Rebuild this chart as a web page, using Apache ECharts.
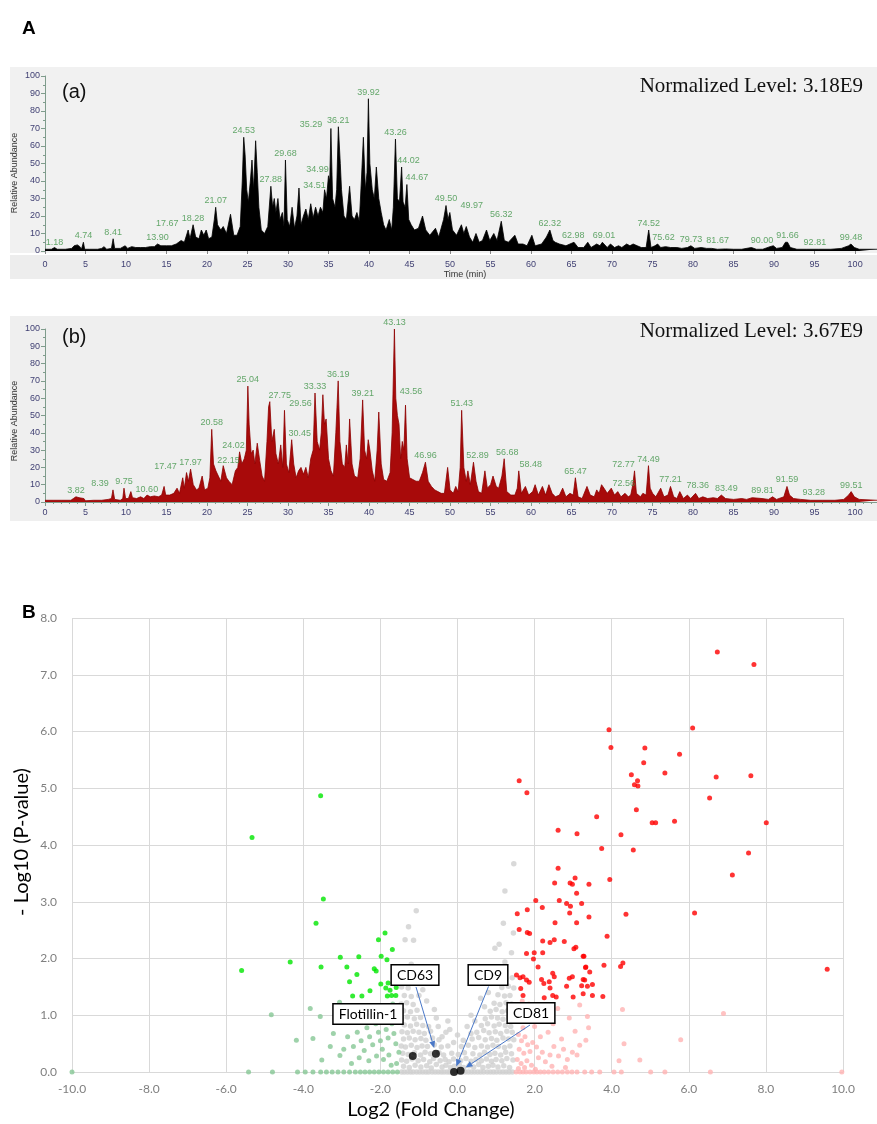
<!DOCTYPE html>
<html lang="en">
<head>
<meta charset="UTF-8">
<title>Chromatograms and volcano plot</title>
<script src="https://cdn.jsdelivr.net/npm/echarts@6/dist/echarts.min.js"></script>
<style>
    html, body {margin: 0; padding: 0; background: #fff;}
    #main {width: 877px; height: 1124px;}
</style>
</head>
<body>
<div id="main"></div>
<script type="text/javascript">
    // chromatogram (a): [time (min), relative abundance]
    var chromA = [
        [0,1],[0.8,1],[1.18,2],[1.5,1],[2.5,1],[3.3,1.5],[3.6,3],[4.0,3.5],[4.3,2.5],[4.5,1],[4.74,5],[4.9,1],[5.5,1],[6.5,1],
        [7.0,1.5],[7.3,2.5],[7.6,1],[8.2,1.5],[8.41,7],[8.6,1.5],[9.3,1.5],[9.9,3],[10.2,1.5],[10.7,2.5],[11.2,2],[11.8,2],
        [12.4,2],[13,2.5],[13.5,2.5],[13.9,4],[14.3,3],[15,3],[15.6,3],[16.2,4],[16.8,6],[17.2,5],[17.67,12],[17.9,7],
        [18.28,15],[18.6,8],[19.0,7],[19.3,12],[19.6,9],[19.9,12],[20.2,7],[20.6,8],[20.9,18],[21.07,25],[21.3,15],[21.7,12],
        [22.0,14],[22.4,10],[22.9,21],[23.3,9],[23.7,9],[24.1,14],[24.35,40],[24.53,65],[24.7,55],[24.9,35],[25.1,28],
        [25.35,40],[25.55,52],[25.75,35],[26.0,63],[26.2,45],[26.4,25],[26.7,12],[27.1,10],[27.5,14],[27.88,37],[28.1,25],
        [28.3,30],[28.5,22],[28.75,30],[29.0,18],[29.3,22],[29.5,14],[29.68,52],[29.9,18],[30.2,14],[30.5,25],[30.8,13],
        [31.1,20],[31.35,36],[31.6,15],[31.9,20],[32.2,24],[32.5,18],[32.8,27],[33.1,19],[33.4,25],[33.7,20],[34.0,25],
        [34.3,22],[34.51,35],[34.75,30],[34.99,43],[35.15,40],[35.29,70],[35.5,30],[35.8,25],[36.0,35],[36.21,71],[36.45,50],
        [36.6,35],[36.9,20],[37.2,18],[37.6,37],[37.9,20],[38.2,18],[38.5,22],[38.8,17],[39.05,40],[39.3,65],[39.55,35],
        [39.75,45],[39.92,87],[40.1,50],[40.4,35],[40.65,30],[40.9,48],[41.2,30],[41.5,22],[41.8,15],[42.1,12],[42.5,18],
        [42.8,12],[43.0,25],[43.26,64],[43.5,30],[43.75,28],[44.02,48],[44.2,28],[44.45,25],[44.67,38],[44.9,18],[45.2,15],
        [45.6,12],[46.1,13],[46.6,20],[47.0,12],[47.5,9],[48.2,13],[48.6,8],[49.2,18],[49.5,26],[49.75,18],[49.97,22],
        [50.3,12],[50.8,9],[51.4,15],[51.7,10],[52.0,14],[52.4,8],[52.8,5],[53.2,10],[53.6,5],[54.0,6],[54.5,12],[54.9,6],
        [55.4,10],[55.8,6],[56.32,17],[56.7,6],[57.2,5],[58.0,9],[58.4,4],[59.0,4],[59.5,3],[60.1,9],[60.5,3],[61.3,4],
        [61.9,8],[62.32,12],[62.7,6],[62.98,5],[63.5,4],[64.3,3],[65.3,5],[65.8,2],[66.5,2],[67.0,5],[67.4,2],[68.1,4],
        [68.5,3],[68.8,5],[69.01,4],[69.4,2],[69.8,4],[70.3,2],[70.8,3],[71.2,2],[71.8,4],[72.2,3],[72.6,4],[73.1,3],
        [73.6,2],[74.2,2],[74.52,12],[74.8,2],[75.3,3],[75.62,4],[76.0,2],[76.6,2.5],[77.2,2],[78.0,2],[78.6,1.5],[79.3,2],
        [79.73,3],[80.2,1.5],[81.0,2],[81.67,1.5],[82.3,1.5],[83.0,1],[84.0,1.2],[85.0,1],[86.0,1],[87.2,2],[87.8,1],
        [88.6,1],[89.5,2.5],[89.9,3],[90.3,1.5],[91.0,2],[91.4,5],[91.66,5],[92.0,2],[92.81,1],[94.0,1],[95.5,1],[97.0,1],
        [98.3,1.5],[99.2,3],[99.48,4],[99.9,2],[100.5,1],[102.7,1]
    ];
    // labelled peaks of (a): [time, height]
    var peaksA = [
        [1.18,1],[4.74,5],[8.41,7],[13.90,4],[17.67,12],[18.28,15],[21.07,25],[24.53,65],[27.88,37],[29.68,52],
        [34.51,35],[34.99,43],[35.29,70],[36.21,71],[39.92,87],[43.26,64],[44.02,48],[44.67,38],[49.50,26],[49.97,22],
        [56.32,17],[62.32,12],[62.98,5],[69.01,5],[74.52,12],[75.62,4],[79.73,3],[81.67,2],[90.00,2],[91.66,5],
        [92.81,1],[99.48,4]
    ];

    // chromatogram (b)
    var chromB = [
        [0,1],[1,1],[2,1],[3.2,1],[3.5,2],[3.82,3],[4.2,2.5],[4.8,2],[5.0,0.7],[6.0,1],[7.0,1],[7.8,1.5],[8.2,2],[8.39,7],
        [8.6,1.5],[9.3,1],[9.6,2],[9.75,8],[9.95,2],[10.3,2],[10.6,6],[10.8,2.5],[11.3,2],[11.8,3],[12.2,2],[12.6,4],
        [13.0,3],[13.5,3.5],[14.0,3],[14.4,4],[14.7,9],[14.9,4],[15.4,4],[15.9,5],[16.3,8],[16.6,5],[17.0,14],[17.2,8],
        [17.47,17],[17.7,12],[17.97,19],[18.3,10],[18.7,7],[19.0,8],[19.4,15],[19.7,7],[20.1,8],[20.35,14],[20.58,42],
        [20.8,22],[21.1,18],[21.4,15],[21.7,12],[22.0,21],[22.15,20],[22.4,14],[22.7,12],[23.1,10],[23.5,18],[23.8,20],
        [24.02,29],[24.3,22],[24.6,25],[24.85,30],[25.04,67],[25.2,45],[25.45,28],[25.7,30],[25.9,22],[26.2,34],[26.5,24],
        [26.8,15],[27.1,12],[27.4,35],[27.6,55],[27.75,58],[28.0,35],[28.3,42],[28.5,28],[28.8,22],[29.1,33],[29.35,20],
        [29.56,53],[29.8,22],[30.1,17],[30.45,36],[30.7,22],[31.0,14],[31.3,18],[31.6,20],[31.9,16],[32.2,20],[32.5,14],
        [32.8,25],[33.1,30],[33.33,63],[33.6,35],[33.9,30],[34.1,40],[34.3,62],[34.5,45],[34.7,48],[35.0,25],[35.3,18],
        [35.6,15],[35.9,40],[36.19,70],[36.4,35],[36.7,22],[37.0,20],[37.2,33],[37.4,22],[37.6,48],[37.9,22],[38.2,15],
        [38.6,14],[38.9,25],[39.21,59],[39.45,30],[39.7,25],[39.9,36],[40.1,30],[40.4,18],[40.7,12],[41.0,30],[41.2,52],
        [41.5,22],[41.8,13],[42.2,12],[42.6,17],[42.85,40],[43.13,100],[43.3,60],[43.5,50],[43.7,45],[43.9,25],[44.1,35],
        [44.3,30],[44.5,56],[44.7,25],[45.0,14],[45.4,13],[45.8,12],[46.2,12],[46.6,17],[46.96,23],[47.3,12],[47.7,9],
        [48.1,7],[48.5,6],[48.9,5],[49.3,5],[49.7,20],[50.0,7],[50.4,5],[50.7,9],[51.0,6],[51.25,20],[51.43,53],[51.7,20],
        [52.0,12],[52.2,18],[52.5,10],[52.89,23],[53.2,12],[53.5,6],[53.9,5],[54.3,18],[54.6,8],[55.0,10],[55.3,15],
        [55.7,9],[56.0,8],[56.4,15],[56.68,25],[57.0,6],[57.5,4],[58.0,4],[58.3,8],[58.48,18],[58.8,5],[59.3,9],[59.7,4],
        [60.2,6],[60.5,10],[60.9,4],[61.4,9],[61.8,4],[62.2,10],[62.6,5],[63.0,3],[63.5,4],[63.9,8],[64.3,3],[64.8,5],
        [65.2,4],[65.47,14],[65.8,3],[66.3,2],[66.9,9],[67.3,4],[67.8,3],[68.1,7],[68.4,5],[68.7,10],[69.0,8],[69.4,5],
        [69.9,8],[70.3,4],[70.7,6],[71.1,3],[71.6,5],[72.0,3],[72.3,4],[72.56,10],[72.77,18],[73.0,5],[73.5,3],[73.8,5],
        [74.2,4],[74.49,21],[74.7,8],[75.0,5],[75.4,3],[76.0,8],[76.4,3],[76.9,4],[77.21,9],[77.6,3],[78.0,2],[78.36,6],
        [78.8,2],[79.3,4],[79.7,2],[80.3,5],[80.7,2],[81.2,3],[81.8,2],[82.5,2.5],[83.0,2],[83.49,4],[84.0,2],[85.0,1.5],
        [86.0,2],[86.6,1.5],[87.3,2.5],[88.5,2],[89.3,1.5],[89.81,3],[90.3,1.5],[91.2,3],[91.59,9],[91.9,4],[92.4,2],
        [93.28,1.5],[94.5,1],[96.0,1],[97.5,1],[98.6,1.5],[99.2,4],[99.51,6],[99.9,3],[100.5,1.5],[102.7,1]
    ];
    var peaksB = [
        [3.82,3],[8.39,7],[9.75,8],[10.60,6],[17.47,17],[17.97,19],[20.58,42],[22.15,20],[24.02,29],[25.04,67],
        [27.75,58],[29.56,53],[30.45,36],[33.33,63],[36.19,70],[39.21,59],[43.13,100],[43.56,57],[46.96,23],[51.43,53],
        [52.89,23],[56.68,25],[58.48,18],[65.47,14],[72.56,10],[72.77,18],[74.49,21],[77.21,9],[78.36,6],[83.49,4],
        [89.81,3],[91.59,9],[93.28,1.5],[99.51,6]
    ];

    // volcano plot: [log2 fold change, -log10 p]
    var upSig = [
        [6.74,7.40],[7.69,7.18],[3.93,6.03],[6.10,6.06],[3.98,5.72],[4.86,5.71],[5.76,5.60],[4.83,5.45],[4.51,5.24],
        [5.38,5.27],[6.71,5.20],[7.61,5.22],[1.60,5.13],[4.67,5.13],[4.59,5.06],[4.68,5.04],[1.80,4.92],[6.54,4.83],
        [4.64,4.62],[3.61,4.50],[5.05,4.39],[5.14,4.39],[5.63,4.42],[8.01,4.39],[2.61,4.26],[3.10,4.20],[4.24,4.18],
        [3.74,3.94],[4.56,3.91],[7.55,3.86],[7.13,3.47],[2.61,3.59],[2.52,3.33],[2.92,3.33],[2.98,3.31],[3.05,3.42],
        [3.41,3.31],[3.95,3.39],[3.22,2.97],[3.41,2.73],[4.37,2.78],[6.15,2.80],[3.88,2.39],[3.26,2.04],[3.33,1.85],
        [3.80,1.88],[3.43,1.76],[4.23,1.86],[4.29,1.92],[3.30,1.62],[3.22,1.52],[3.50,1.54],[3.50,1.35],[3.77,1.33],
        [9.59,1.81],[3.09,3.15],[2.03,3.02],[2.64,3.02],[2.83,2.97],[2.93,2.92],[1.55,2.79],[1.81,2.86],[2.20,2.90],
        [2.91,2.80],[2.53,2.63],[3.09,2.63],[1.60,2.51],[1.81,2.46],[1.87,2.44],[2.21,2.31],[2.40,2.28],[2.51,2.33],
        [2.77,2.30],[3.07,2.20],[3.02,2.17],[1.79,2.09],[1.99,2.10],[2.21,2.10],[1.97,1.99],[3.28,2.04],[2.09,1.85],
        [3.32,1.84],[1.53,1.71],[1.70,1.68],[1.62,1.66],[1.79,1.62],[1.86,1.58],[2.18,1.63],[2.24,1.56],[2.47,1.74],
        [2.51,1.68],[2.38,1.59],[2.90,1.65],[2.98,1.68],[3.26,1.63],[3.37,1.51],[2.83,1.51],[2.40,1.48],[1.64,1.47],
        [1.70,1.35],[2.25,1.31],[2.56,1.32],[2.47,1.35],[3.00,1.32],[3.26,1.38]
    ];
    var upNs = [
        [3.17,1.18],[4.28,1.10],[3.37,0.98],[6.90,1.03],[3.33,0.56],[3.17,0.47],[4.32,0.50],[5.79,0.57],[4.19,0.20],
        [4.73,0.21],[3.30,0],[3.69,0],[4.06,0],[4.25,0],[5.01,0],[5.38,0],[6.56,0],[9.97,0],
        [1.55,1.05],[1.62,0.90],[1.70,0.78],[1.58,0.66],[1.66,0.55],[1.75,0.62],[1.82,0.48],[1.60,0.40],[1.72,0.33],
        [1.88,0.36],[1.95,0.52],[2.05,0.44],[1.55,0.22],[1.65,0.15],[1.80,0.20],[1.92,0.12],[2.10,0.25],[2.20,0.35],
        [2.28,0.18],[2.40,0.30],[2.50,0.45],[2.62,0.28],[2.75,0.40],[2.85,0.22],[2.98,0.35],[3.10,0.30],[2.15,0.62],
        [2.35,0.70],[2.00,0.80],[2.48,0.85],[2.70,0.58],[2.90,0.95],[2.20,1.05],[2.60,1.12],[1.85,1.20],[3.05,0.72],
        [1.68,1.25],[3.40,0.78],[1.58,0.06],[1.74,0.08],[2.02,0.05],[2.45,0.10],[2.80,0.08],
        [1.52,0],[1.62,0],[1.70,0],[1.78,0],[1.88,0],[1.98,0],[2.06,0],[2.15,0],[2.25,0],[2.36,0],[2.48,0],[2.60,0],
        [2.72,0],[2.85,0],[2.97,0],[3.10,0],[3.48,0]
    ];
    var downSig = [
        [-5.33,4.13],[-3.55,4.87],[-5.60,1.79],[-4.34,1.94],[-3.48,3.05],[-3.67,2.62],[-1.88,2.45],[-2.05,2.33],
        [-1.69,2.16],[-3.04,2.02],[-2.56,2.03],[-1.98,2.04],[-1.83,1.98],[-3.54,1.85],[-2.87,1.85],[-2.16,1.82],
        [-2.11,1.78],[-2.61,1.72],[-2.80,1.59],[-1.99,1.55],[-1.80,1.57],[-1.59,1.49],[-1.86,1.48],[-1.75,1.44],
        [-2.27,1.43],[-2.72,1.34],[-2.48,1.34],[-1.82,1.34],[-1.71,1.35],[-1.60,1.35]
    ];
    var downNs = [
        [-4.83,1.01],[-4.18,0.56],[-10.0,0],[-5.42,0],[-4.80,0],[-3.82,1.12],[-3.56,0.98],[-3.06,1.23],[-3.75,0.59],
        [-3.22,0.68],[-3.05,0.29],[-3.52,0.21],[-3.30,0.45],[-2.95,0.40],
        [-2.85,0.62],[-2.70,0.45],[-2.60,0.70],[-2.50,0.55],[-2.42,0.38],[-2.35,0.78],[-2.28,0.62],[-2.20,0.48],
        [-2.12,0.85],[-2.05,0.70],[-2.00,0.55],[-1.95,0.40],[-1.90,0.95],[-1.85,0.75],[-1.80,0.60],[-1.75,1.05],
        [-1.70,0.85],[-1.65,0.68],[-1.60,0.50],[-1.55,0.90],[-1.52,0.35],[-1.68,1.20],[-1.78,0.30],[-1.92,0.22],
        [-2.10,0.28],[-2.30,0.20],[-2.55,0.25],[-2.75,0.15],[-1.58,0.15],[-1.72,0.12],[-2.65,0.95],[-2.40,1.00],
        [-4.15,0],[-3.95,0],[-3.75,0],[-3.55,0],[-3.40,0],[-3.25,0],[-3.10,0],[-2.95,0],[-2.80,0],[-2.65,0],[-2.52,0],
        [-2.40,0],[-2.28,0],[-2.16,0],[-2.04,0],[-1.92,0],[-1.80,0],[-1.68,0],[-1.56,0]
    ];
    var noChange = [
        [-1.45,0],[-1.38,0],[-1.30,0],[-1.22,0],[-1.15,0],[-1.06,0],[-0.98,0],[-0.90,0],[-0.82,0],[-0.75,0],[-0.66,0],
        [-0.58,0],[-0.50,0],[-0.42,0],[-0.35,0],[-0.27,0],[-0.20,0],[-0.13,0],[-0.05,0],[0.03,0],[0.12,0],[0.20,0],
        [0.28,0],[0.36,0],[0.44,0],[0.52,0],[0.60,0],[0.68,0],[0.77,0],[0.85,0],[0.93,0],[1.01,0],[1.10,0],[1.18,0],
        [1.26,0],[1.34,0],[1.42,0],
        [-1.40,0.10],[-1.25,0.08],[-1.10,0.12],[-0.95,0.09],[-0.80,0.11],[-0.68,0.07],[-0.55,0.13],[-0.40,0.09],
        [-0.30,0.12],[-0.18,0.08],[-0.08,0.10],[0.05,0.12],[0.16,0.08],[0.30,0.11],[0.42,0.09],[0.55,0.13],[0.66,0.08],
        [0.80,0.10],[0.92,0.12],[1.05,0.09],[1.20,0.11],[1.35,0.08],
        [-1.45,0.21],[-1.32,0.19],[-1.18,0.23],[-1.02,0.20],[-0.88,0.22],[-0.72,0.18],[-0.62,0.24],[-0.45,0.20],
        [-0.32,0.22],[-0.22,0.18],[-0.10,0.23],[0.08,0.20],[0.22,0.24],[0.35,0.19],[0.48,0.22],[0.62,0.20],[0.75,0.23],
        [0.88,0.19],[1.00,0.22],[1.15,0.20],[1.28,0.24],[1.44,0.21],
        [-1.42,0.33],[-1.28,0.31],[-1.12,0.34],[-0.96,0.30],[-0.84,0.35],[-0.70,0.32],[-0.48,0.34],[-0.36,0.30],
        [-0.15,0.33],[0.02,0.31],[0.18,0.34],[0.40,0.32],[0.58,0.30],[0.70,0.35],[0.84,0.31],[0.97,0.33],[1.12,0.30],
        [1.25,0.35],[1.40,0.32],
        [-1.46,0.46],[-1.35,0.44],[-1.20,0.47],[-1.05,0.43],[-0.92,0.46],[-0.78,0.45],[-0.60,0.48],[-0.42,0.44],
        [-0.25,0.46],[0.10,0.45],[0.28,0.47],[0.45,0.43],[0.62,0.46],[0.78,0.44],[0.92,0.47],[1.06,0.45],[1.22,0.43],
        [1.36,0.46],
        [-1.40,0.58],[-1.25,0.60],[-1.10,0.57],[-0.95,0.59],[-0.82,0.56],[-0.65,0.60],[-0.48,0.57],[-0.40,0.62],
        [-0.10,0.52],[0.15,0.56],[0.38,0.58],[0.55,0.61],[0.72,0.57],[0.88,0.59],[1.02,0.56],[1.18,0.60],[1.32,0.58],
        [1.46,0.57],
        [-1.44,0.71],[-1.30,0.69],[-1.15,0.72],[-1.00,0.70],[-0.86,0.68],[-0.70,0.72],[-0.20,0.75],[0.25,0.80],
        [0.50,0.70],[0.68,0.73],[0.82,0.69],[0.98,0.71],[1.12,0.68],[1.28,0.72],[1.42,0.70],
        [-1.38,0.83],[-1.22,0.81],[-1.06,0.84],[-0.90,0.82],[-0.75,0.80],[0.62,0.82],[0.78,0.85],[0.95,0.81],
        [1.08,0.84],[1.24,0.82],[1.38,0.80],
        [-1.45,0.95],[-1.30,0.97],[-1.12,0.94],[-0.96,0.96],[-0.55,0.95],[0.72,0.94],[0.88,0.97],[1.04,0.95],
        [1.18,0.93],[1.34,0.96],[1.48,0.94],
        [-1.40,1.08],[-1.22,1.06],[-1.05,1.09],[0.85,1.07],[1.00,1.10],[1.16,1.06],[1.30,1.08],[1.44,1.09],
        [-1.46,1.20],[-1.32,1.22],[-1.15,1.19],[0.60,1.30],[0.95,1.21],[1.10,1.19],[1.26,1.22],[1.40,1.20],
        [-1.38,1.35],[-1.20,1.33],[1.05,1.36],[1.22,1.34],[1.36,1.35],
        [-1.45,1.50],[-1.28,1.48],[-0.90,1.45],[1.15,1.49],[1.32,1.51],[1.46,1.48],
        [-1.36,1.65],[1.25,1.64],[1.42,1.66],
        [-0.30,0.70],[0.00,0.65],[0.35,0.68],[-0.50,0.80],[0.45,0.90],[-0.60,1.10],[0.70,1.15],[-0.80,1.25],
        [0.80,1.40],[-1.00,1.35],[0.35,1.00],[-0.25,0.90],
        [-1.07,2.84],[-1.27,2.56],[-1.14,2.32],[-1.36,2.33],[1.23,3.19],[1.19,2.62],[1.08,2.25],[0.97,2.18],
        [1.23,1.94],[0.88,1.77],[1.46,3.67],[1.40,2.10],[-1.20,1.90],[1.45,2.45]
    ];
    // marker proteins (Flotillin-1, CD63, CD9, CD81)
    var markerNames = ['Flotillin-1', 'CD63', 'CD9', 'CD81'];
    var markerPts = [[-1.16,0.28],[-0.56,0.32],[-0.09,0],[0.08,0.02]];

    // label nudges (pixels) where the original moved a peak label aside
    var shiftA = {'17.67': [-21, 0], '34.51': [-10, 2], '34.99': [-11, 0], '35.29': [-20, 3], '44.02': [7, 0],
        '44.67': [10, 0], '49.97': [22, 0], '62.98': [18, 0], '75.62': [6, 0], '81.67': [11, 0], '90.00': [-12, 0],
        '92.81': [18, 0]};
    var shiftB = {'8.39': [-13, 0], '10.60': [16, 4], '17.47': [-21, 0], '22.15': [4, 0], '24.02': [-6, 0],
        '27.75': [10, 0], '29.56': [16, 0], '30.45': [8, 0], '43.56': [13, -5], '52.89': [4, 0], '56.68': [3, 0],
        '58.48': [12, 0], '72.56': [-9, 5], '72.77': [-11, 0], '78.36': [18, 0], '83.49': [5, 0], '89.81': [-10, 0],
        '93.28': [13, 0]};

    function peakItems(peaks, shift) {
        return peaks.map(function (p) {
            var key = p[0].toFixed(2);
            var item = {value: p};
            if (shift[key]) item.label = {offset: shift[key]};
            return item;
        });
    }

    var greenLbl = '#3f9447';
    var axisGreen = '#7f9c8c';
    var tickNavy = '#3f3f72';

    function chromX(idx, band) {
        return {
            type: 'value', gridIndex: idx, min: 0, max: 102.7, interval: 5,
            offset: band ? 5 : 0,
            axisLine: {show: !band, lineStyle: {color: axisGreen, width: 1}},
            axisTick: {show: true, length: band ? 3 : 4, lineStyle: {color: band ? '#888' : axisGreen}},
            minorTick: {show: !band, splitNumber: 5, length: 2, lineStyle: {color: axisGreen}},
            axisLabel: {
                fontSize: 9, color: tickNavy, margin: band ? 4 : 6, fontFamily: 'Liberation Sans',
                showMaxLabel: false,
                formatter: function (v) { return v % 5 === 0 ? String(v) : ''; }
            },
            splitLine: {show: false}
        };
    }

    function chromY(idx) {
        return {
            type: 'value', gridIndex: idx, min: 0, max: 100, interval: 10,
            axisLine: {show: true, lineStyle: {color: axisGreen, width: 1}},
            axisTick: {show: true, length: 4, lineStyle: {color: axisGreen}},
            minorTick: {show: true, splitNumber: 2, length: 2, lineStyle: {color: axisGreen}},
            axisLabel: {fontSize: 9, color: tickNavy, margin: 5, fontFamily: 'Liberation Sans'},
            splitLine: {show: false}
        };
    }

    function peakSeries(idx, peaks, shift) {
        return {
            type: 'scatter', xAxisIndex: idx, yAxisIndex: idx, symbolSize: 0, silent: true, z: 5,
            data: peakItems(peaks, shift),
            label: {
                show: true, position: 'top', distance: 2, fontSize: 9, color: greenLbl,
                fontFamily: 'Liberation Sans',
                formatter: function (p) { return p.value[0].toFixed(2); }
            }
        };
    }

    function dots(data, color, size, z) {
        return {
            type: 'scatter', xAxisIndex: 2, yAxisIndex: 2, data: data, symbolSize: size, silent: true, z: z,
            itemStyle: {color: color}
        };
    }

    var gridLine = {show: true, lineStyle: {color: '#d9d9d9', width: 1}};

    var baseGraphic = [
        {type: 'rect', z: -1, silent: true, shape: {x: 10, y: 67, width: 867, height: 186}, style: {fill: '#f1f1f1'}},
        {type: 'rect', z: -1, silent: true, shape: {x: 10, y: 255, width: 867, height: 24}, style: {fill: '#ededed'}},
        {type: 'rect', z: -1, silent: true, shape: {x: 10, y: 316, width: 867, height: 205}, style: {fill: '#efefef'}},
        {type: 'text', x: 22, y: 19, style: {text: 'A', font: 'bold 19px Liberation Sans', fill: '#000'}},
        {type: 'text', x: 22, y: 603, style: {text: 'B', font: 'bold 19px Liberation Sans', fill: '#000'}},
        {type: 'text', x: 62, y: 92, style: {text: '(a)', font: '20px Liberation Sans', fill: '#111', verticalAlign: 'middle'}},
        {type: 'text', x: 62, y: 337, style: {text: '(b)', font: '20px Liberation Sans', fill: '#111', verticalAlign: 'middle'}},
        {type: 'text', x: 863, y: 86, style: {text: 'Normalized Level: 3.18E9', font: '21px Liberation Serif', fill: '#111', align: 'right', verticalAlign: 'middle'}},
        {type: 'text', x: 863, y: 331, style: {text: 'Normalized Level: 3.67E9', font: '21px Liberation Serif', fill: '#111', align: 'right', verticalAlign: 'middle'}},
        {type: 'text', x: 465, y: 275, style: {text: 'Time (min)', font: '9px Liberation Sans', fill: '#333', align: 'center', verticalAlign: 'middle'}},
        {type: 'text', x: 15, y: 173, rotation: Math.PI / 2, style: {text: 'Relative Abundance', font: '9px Liberation Sans', fill: '#333', align: 'center', verticalAlign: 'middle'}},
        {type: 'text', x: 15, y: 421, rotation: Math.PI / 2, style: {text: 'Relative Abundance', font: '9px Liberation Sans', fill: '#333', align: 'center', verticalAlign: 'middle'}},
        {type: 'text', x: 22, y: 842, rotation: Math.PI / 2, style: {text: '- Log10 (P-value)', font: '20px Lato', fill: '#000', align: 'center', verticalAlign: 'middle'}},
        {type: 'text', x: 431, y: 1110, style: {text: 'Log2 (Fold Change)', font: '20px Lato', fill: '#000', align: 'center', verticalAlign: 'middle'}}
    ];

    var boxes = [
        {name: 'Flotillin-1', x: 368, y: 1014},
        {name: 'CD63', x: 415, y: 975},
        {name: 'CD9', x: 488, y: 975},
        {name: 'CD81', x: 531, y: 1013}
    ];
    boxes.forEach(function (b) {
        baseGraphic.push({
            type: 'text', x: b.x, y: b.y, z: 100,
            style: {
                text: b.name, font: '14px Lato', fill: '#000', align: 'center', verticalAlign: 'middle',
                backgroundColor: '#fff', borderColor: '#000', borderWidth: 1.5, padding: [3, 5, 2, 5]
            }
        });
    });

    var option = {
        animation: false,
        backgroundColor: '#fff',
        grid: [
            {left: 45, right: 0, top: 76, height: 175, outerBoundsMode: 'none'},
            {left: 45, right: 0, top: 329, height: 173, outerBoundsMode: 'none'},
            {left: 72, right: 34, top: 618, height: 454, outerBoundsMode: 'none'}
        ],
        xAxis: [
            chromX(0, true),
            chromX(1, false),
            {
                type: 'value', gridIndex: 2, min: -10, max: 10, interval: 2,
                axisLine: {show: false}, axisTick: {show: false}, splitLine: gridLine,
                axisLabel: {fontSize: 12, color: '#7f7f7f', margin: 11, fontFamily: 'Lato',
                    formatter: function (v) { return v.toFixed(1); }}
            }
        ],
        yAxis: [
            chromY(0),
            chromY(1),
            {
                type: 'value', gridIndex: 2, min: 0, max: 8, interval: 1,
                axisLine: {show: false}, axisTick: {show: false}, splitLine: gridLine,
                axisLabel: {fontSize: 12, color: '#7f7f7f', margin: 15, fontFamily: 'Lato',
                    formatter: function (v) { return v.toFixed(1); }}
            }
        ],
        series: [
            {
                type: 'line', xAxisIndex: 0, yAxisIndex: 0, data: chromA, showSymbol: false, silent: true,
                lineStyle: {color: '#000', width: 0.8}, areaStyle: {color: '#000', opacity: 1}
            },
            peakSeries(0, peaksA, shiftA),
            {
                type: 'line', xAxisIndex: 1, yAxisIndex: 1, data: chromB, showSymbol: false, silent: true,
                lineStyle: {color: '#8e0000', width: 0.8}, areaStyle: {color: '#a80a0a', opacity: 1}
            },
            peakSeries(1, peaksB, shiftB),
            dots(noChange, '#cfcfcf', 5.5, 2),
            dots(upNs, '#ffb3b3', 5, 3),
            dots(downNs, '#86c795', 5, 3),
            dots(upSig, '#ff0000', 5, 4),
            dots(downSig, '#00e600', 5, 4),
            dots(markerPts, '#000', 8, 6)
        ],
        graphic: baseGraphic
    };

    var myChart = echarts.init(document.getElementById('main'));
    myChart.setOption(option);

    // blue arrows from the label boxes to the marker dots
    var arrowFrom = {CD63: [416, 987], CD9: [488.5, 986.5], CD81: [530, 1025]};
    var arrows = [];
    ['CD63', 'CD9', 'CD81'].forEach(function (name) {
        var pt = myChart.convertToPixel({gridIndex: 2}, markerPts[markerNames.indexOf(name)]);
        var s = arrowFrom[name];
        var dx = pt[0] - s[0], dy = pt[1] - s[1];
        var len = Math.sqrt(dx * dx + dy * dy);
        var ux = dx / len, uy = dy / len;
        var tip = [pt[0] - ux * 6, pt[1] - uy * 6];
        var back = [tip[0] - ux * 7, tip[1] - uy * 7];
        arrows.push({type: 'line', z: 99, silent: true,
            shape: {x1: s[0], y1: s[1], x2: back[0], y2: back[1]}, style: {stroke: '#4a78c8', lineWidth: 1}});
        arrows.push({type: 'polygon', z: 99, silent: true,
            shape: {points: [tip, [back[0] - uy * 3, back[1] + ux * 3], [back[0] + uy * 3, back[1] - ux * 3]]},
            style: {fill: '#4a78c8'}});
    });
    myChart.setOption({graphic: baseGraphic.concat(arrows)});
</script>
</body>
</html>
